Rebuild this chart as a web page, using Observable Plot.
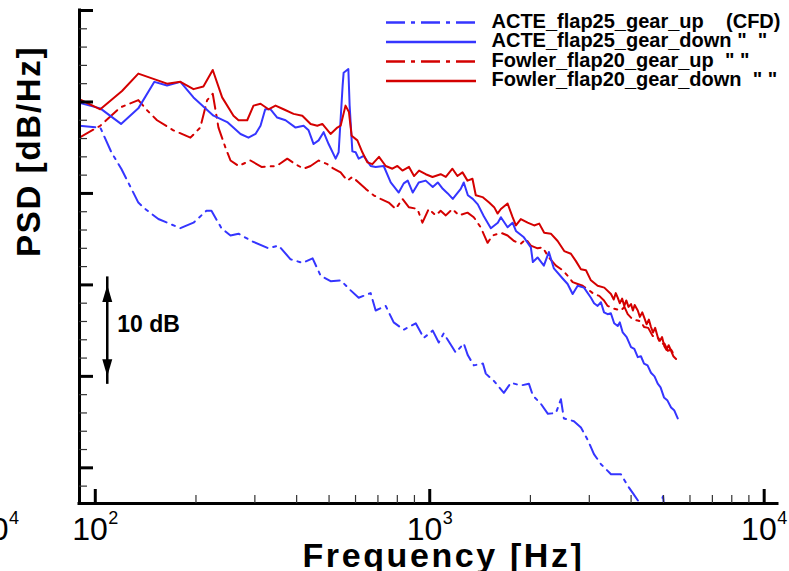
<!DOCTYPE html>
<html><head><meta charset="utf-8">
<script src="https://cdn.jsdelivr.net/npm/d3@7"></script>
<script src="https://cdn.jsdelivr.net/npm/@observablehq/plot@0.6"></script>
<style>html,body{margin:0;padding:0;background:#fff;overflow:hidden} svg{display:block}</style>
</head><body><div id="chart"></div>
<script>
// ---- data: [frequency Hz, PSD dB] ----
const acteGearUp = [[89.6,47.4],[103.5,47.2],[111.7,44.5],[119.6,42.7],[134.5,39.0],[141.1,38.3],[154.4,37.2],[179.7,36.2],[196.6,36.8],[214.9,38.1],[222.5,38.1],[238.4,36.2],[253.7,35.4],[268.1,35.6],[293.1,34.8],[329.6,34.0],[353.1,34.3],[383.6,32.8],[416.8,32.4],[446.5,32.9],[471.8,31.0],[505.3,30.4],[541.4,30.5],[580.2,29.4],[613.1,28.6],[665.8,29.1],[689.1,27.2],[738.5,27.7],[780.3,25.9],[836.1,25.1],[908.1,25.8],[959.4,24.2],[1021,25.0],[1064,23.7],[1101,24.7],[1196,22.6],[1264,23.6],[1300,22.3],[1355,21.2],[1442,21.4],[1471,20.3],[1555,19.5],[1666,18.2],[1748,19.3],[1873,19.0],[1979,19.2],[2034,17.9],[2149,17.0],[2256,15.9],[2384,16.0],[2467,17.5],[2518,15.4],[2698,15.1],[2832,14.4],[2972,13.0],[3097,11.5],[3251,10.4],[3483,9.3],[3730,9.3],[3915,8.0],[4054,7.2],[4197,6.4],[4526,4.7],[4751,4.7],[4985,6.9],[5052,4.7],[5300,4.2]];

const acteGearDown = [[89.6,49.9],[103.5,49.3],[119.4,47.6],[134.5,49.3],[150.2,52.2],[163.9,51.8],[179.7,52.2],[196.6,50.5],[225.6,48.5],[248,47.8],[271.8,46.5],[287.1,46.1],[301.3,46.5],[311.9,47.4],[322.2,49.2],[334.2,49.2],[349.9,48.3],[370.6,48.0],[397.1,47.2],[419.6,47.4],[434.3,46.9],[449.5,45.4],[465.3,45.8],[481.6,46.7],[498.5,45.4],[523.2,43.8],[534.1,44.5],[549,51.8],[552.8,53.2],[571,53.6],[576.1,49.6],[587,44.6],[600.4,44.5],[613,43.8],[634.6,44.1],[665.8,43.0],[689.1,42.9],[728.4,43.0],[764.4,41.2],[807.8,40.1],[836.1,41.1],[859.6,41.4],[889.8,40.1],[927.1,41.2],[972.7,41.4],[1021,40.7],[1057,41.2],[1094,40.5],[1132,40.0],[1172,39.4],[1238,40.5],[1264,41.2],[1300,39.8],[1345,39.4],[1392,38.8],[1451,37.5],[1523,36.2],[1598,36.8],[1632,37.4],[1709,36.3],[1769,36.8],[1810,35.9],[1912,35.2],[2006,34.1],[2034,32.5],[2101,33.0],[2194,32.1],[2271,33.6],[2351,31.8],[2497,30.7],[2584,30.1],[2675,29.0],[2769,29.9],[2892,29.7],[3034,28.6],[3100,28.0],[3177,27.7],[3250,28.1],[3320,27.0],[3404,26.8],[3480,26.9],[3560,25.8],[3648,25.5],[3700,25.9],[3776,24.8],[3880,24.3],[3998,23.2],[4090,23.0],[4188,22.1],[4280,22.2],[4373,21.4],[4480,21.2],[4587,20.4],[4700,20.0],[4805,19.2],[4900,18.8],[5017,17.7],[5130,17.4],[5268,16.6],[5380,16.3],[5515,15.4]];

const fowlerGearUp = [[89.6,46.1],[103.5,47.4],[118.8,49.4],[134.5,50.2],[142.8,49.1],[153,48.0],[171.2,46.9],[192.5,46.1],[206,47.2],[216,50.2],[224.5,50.9],[233.5,47.2],[245.1,45.0],[253.7,43.6],[268.1,43.0],[291.1,43.6],[314,42.9],[348.3,43.0],[375,43.8],[397.1,43.2],[419.6,42.7],[440.3,43.0],[465.3,43.6],[494.1,43.2],[516,42.7],[541.4,42.3],[567.1,41.4],[587,41.8],[613,41.2],[643.3,40.5],[679.7,39.8],[713,39.4],[753.9,39.0],[791,38.3],[828.6,39.4],[865.6,38.5],[918.9,38.3],[951,36.8],[993,38.3],[1042,37.6],[1078,38.1],[1117,37.6],[1169,38.3],[1222,37.6],[1297,37.9],[1354,37.4],[1420,36.3],[1489,34.6],[1541,35.4],[1632,35.7],[1709,35.4],[1786,34.8],[1872,34.5],[1939,35.0],[2006,34.3],[2101,34.0],[2175,34.1],[2271,33.0],[2384,32.1],[2497,31.6],[2584,31.0],[2675,30.3],[2769,30.1],[2866,29.9],[2999,29.4],[3097,29.0],[3213,28.8],[3319,28.3],[3404,27.7],[3556,27.4],[3730,27.2],[3820,27.6],[3908,26.8],[4050,26.2],[4188,26.1],[4280,26.0],[4373,25.4],[4500,25.3],[4643,24.4],[4780,24.4],[4915,23.5],[5030,23.6],[5149,22.8],[5270,22.9],[5388,22.3]];

const fowlerGearDown = [[89.6,50.3],[103.5,49.2],[120.2,51.2],[134.5,53.1],[163.9,52.0],[179.7,52.2],[196.6,51.4],[210.5,51.7],[224.5,53.5],[239.5,50.5],[258.9,48.5],[268.1,48.0],[284.6,48.0],[297.2,49.6],[311.9,49.8],[329.6,49.2],[345.9,49.6],[365.5,49.2],[391.6,48.7],[415.9,48.5],[440.3,47.6],[461.1,47.4],[477.3,47.6],[505.3,46.5],[529.3,47.2],[541.4,47.4],[560,49.6],[573.3,48.9],[584.2,46.3],[607.6,45.8],[628.9,44.5],[650.9,43.4],[673.6,43.2],[705.1,44.0],[738.5,43.0],[773.3,42.7],[800.4,43.0],[828.6,42.5],[867.1,42.9],[897.5,41.9],[929.1,42.5],[972.7,42.1],[1019,41.8],[1078,42.1],[1117,41.8],[1169,42.7],[1210,41.9],[1253,42.3],[1297,41.4],[1342,41.6],[1373,39.8],[1438,39.6],[1505,39.0],[1558,38.5],[1595,37.8],[1632,38.3],[1709,38.9],[1769,37.4],[1810,36.5],[1872,37.2],[1962,36.8],[2052,36.5],[2125,36.7],[2199,35.7],[2302,35.6],[2412,34.8],[2524,33.7],[2643,33.4],[2736,32.6],[2831,31.7],[2932,31.6],[3033,30.5],[3177,29.9],[3326,29.7],[3482,29.0],[3550,28.4],[3600,29.1],[3648,28.6],[3700,28.0],[3760,28.5],[3817,27.7],[3870,28.3],[3930,27.6],[3998,27.9],[4050,27.2],[4100,27.8],[4188,27.2],[4250,26.5],[4320,27.0],[4382,26.4],[4450,25.7],[4520,26.2],[4587,25.4],[4650,24.8],[4720,25.3],[4805,24.3],[4880,23.9],[4950,24.3],[5028,23.3],[5100,22.9],[5180,23.4],[5268,22.8],[5350,22.2],[5452,21.9]];

const seriesNames = ["ACTE_flap25_gear_up", "ACTE_flap25_gear_down", "Fowler_flap20_gear_up", "Fowler_flap20_gear_down"];
const legendLabels = [
  "ACTE_flap25_gear_up\u00A0\u00A0\u00A0\u00A0(CFD)",
  "ACTE_flap25_gear_down\u00A0\"\u00A0\u00A0\"",
  "Fowler_flap20_gear_up\u00A0\u00A0\"\u00A0\"",
  "Fowler_flap20_gear_down\u00A0\u00A0\"\u00A0\""
];
const xMajorTicks = [100, 1000, 10000];
const xMinorTicks = [200,300,400,500,600,700,800,900,2000,3000,4000,5000,6000,7000,8000,9000];
const yMajorTicks = [10,20,30,40,50,60];
const yMinorTicks = [8,12,14,16,18,22,24,26,28,32,34,36,38,42,44,46,48,52,54,56,58];
const xTitle = "Frequency [Hz]";
const yTitle = "PSD [dB/Hz]";
const scaleBarFreq = 108.6;
const scaleBarDb = [20, 30];
const scaleBarLabel = "10 dB";

// ---- layout ----
const W = 789, H = 571, mL = 79, mR = 12, mT = 10, mB = 68;
const innerW = W - mL - mR, innerH = H - mT - mB;
const xDomain = [89.7, 10960], yDomain = [6.1, 60];
const BLUE = "#3535ff", RED = "#d40000";
const DASHDOT = "16,6,3,6";
const styles = [
  {stroke: BLUE, dash: DASHDOT},
  {stroke: BLUE, dash: null},
  {stroke: RED, dash: DASHDOT},
  {stroke: RED, dash: null}
];
const seriesData = [acteGearUp, acteGearDown, fowlerGearUp, fowlerGearDown];
const rows = (pairs, name) => pairs.map(([f, p]) => ({f, p, name}));

const triangle = {draw(ctx) { ctx.moveTo(0, 0); ctx.lineTo(5, 17); ctx.lineTo(-5, 17); ctx.closePath(); }};
const font = "'Liberation Sans', Arial, Helvetica, sans-serif";

const lineMarks = seriesData.map((d, i) => Plot.line(rows(d, seriesNames[i]), {
  x: "f", y: "p", stroke: styles[i].stroke, strokeWidth: 2,
  strokeDasharray: styles[i].dash, clip: true
}));

const chart = Plot.plot({
  width: W, height: H,
  marginLeft: mL, marginRight: mR, marginTop: mT, marginBottom: mB,
  x: {type: "log", domain: xDomain, axis: null},
  y: {domain: yDomain, axis: null},
  style: {fontFamily: font, background: "white", overflow: "hidden"},
  marks: [
    lineMarks[0], lineMarks[2], lineMarks[1], lineMarks[3],
    Plot.ruleX([xDomain[0]], {strokeWidth: 3, strokeLinecap: "square"}),
    Plot.ruleY([yDomain[0]], {strokeWidth: 3, strokeLinecap: "square"}),
    Plot.tickX(xMajorTicks, {x: d => d, insetTop: innerH - 14, strokeWidth: 3}),
    Plot.tickX(xMinorTicks, {x: d => d, insetTop: innerH - 8, strokeWidth: 1.2, stroke: "#333"}),
    Plot.tickY(yMajorTicks, {y: d => d, insetRight: innerW - 14, strokeWidth: 3}),
    Plot.tickY(yMinorTicks, {y: d => d, insetRight: innerW - 8, strokeWidth: 1.2, stroke: "#333"}),
    Plot.text(xMajorTicks, {x: d => d, text: () => "10", frameAnchor: "bottom", textAnchor: "end", lineAnchor: "bottom", dx: 12.5, dy: 36.5, fontSize: 32, fill: "black"}),
    Plot.text(xMajorTicks, {x: d => d, text: d => String(Math.round(Math.log10(d))), frameAnchor: "bottom", textAnchor: "start", lineAnchor: "bottom", dx: 13, dy: 20.5, fontSize: 18, fill: "black"}),
    // clipped label from neighbouring panel
    Plot.text(["10"], {text: d => d, frameAnchor: "bottom-left", textAnchor: "end", lineAnchor: "bottom", dx: -71, dy: 36.5, fontSize: 32, fill: "black"}),
    Plot.text(["4"], {text: d => d, frameAnchor: "bottom-left", textAnchor: "start", lineAnchor: "bottom", dx: -70.5, dy: 20.5, fontSize: 18, fill: "black"}),
    Plot.text([xTitle], {text: d => d, frameAnchor: "bottom", lineAnchor: "bottom", dx: 15, dy: 63.5, fontSize: 34, fontWeight: "bold", fill: "black"}),
    Plot.text([yTitle], {text: d => d, frameAnchor: "left", rotate: -90, lineAnchor: "bottom", dx: -40, dy: 0, fontSize: 33, fontWeight: "bold", fill: "black"}),
    // 10 dB scale bar
    Plot.ruleX([scaleBarFreq], {y1: scaleBarDb[0], y2: scaleBarDb[1], strokeWidth: 2.5, insetTop: 8, insetBottom: 8}),
    Plot.dot([{y: scaleBarDb[1], r: 0}, {y: scaleBarDb[0], r: 180}], {x: () => scaleBarFreq, y: "y", rotate: "r", symbol: triangle, fill: "black", stroke: null}),
    Plot.text([scaleBarLabel], {x: () => scaleBarFreq, y: () => (scaleBarDb[0] + scaleBarDb[1]) / 2, text: d => d, textAnchor: "start", lineAnchor: "bottom", dx: 10, dy: 1, fontSize: 23, fontWeight: "bold", fill: "black"})
  ]
});
document.getElementById("chart").appendChild(chart);

const svg = d3.select(chart);
// wider letter spacing of the axis titles, as in the reference
svg.selectAll("text").filter(function() { return this.textContent === xTitle; }).attr("letter-spacing", "2.6px");
svg.selectAll("text").filter(function() { return this.textContent === yTitle; }).attr("letter-spacing", "1.7px");

// ---- legend (inside plot, top right) ----
const lg = svg.append("g").attr("class", "legend").attr("text-anchor", "start");
const legendX1 = 386, legendX2 = 476, legendTextX = 491.5, legendY0 = 22.5, legendDy = 19.5;
legendLabels.forEach((label, i) => {
  const y = legendY0 + i * legendDy;
  lg.append("line").attr("x1", legendX1).attr("x2", legendX2).attr("y1", y).attr("y2", y)
    .attr("stroke", styles[i].stroke).attr("stroke-width", 2.5)
    .attr("stroke-dasharray", styles[i].dash ? "19,6,4,6" : null);
  lg.append("text").attr("x", legendTextX).attr("y", y + 5).attr("text-anchor", "start")
    .attr("font-family", font).attr("font-size", 20).attr("font-weight", "bold").attr("fill", "black")
    .text(label);
});
</script></body></html>
